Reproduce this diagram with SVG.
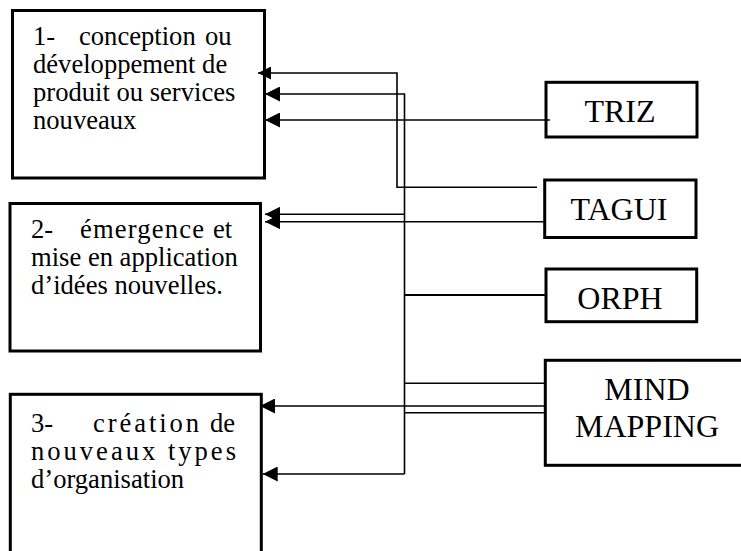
<svg xmlns="http://www.w3.org/2000/svg" width="741" height="551" viewBox="0 0 741 551">
  <style>
    .box { fill: #ffffff; stroke: #000000; stroke-width: 3; }
    .label { font-family: "Liberation Serif", "Times New Roman", serif; font-size: 26.6px; fill: #000000; }
    .tool { font-family: "Liberation Serif", "Times New Roman", serif; font-size: 32px; fill: #000000; text-anchor: middle; }
    .link { fill: none; stroke: #000000; stroke-width: 1.6; }
    .arrow { marker-end: url(#head); }
  </style>
  <defs>
    <marker id="head" viewBox="0 0 16 16" refX="16" refY="8" markerWidth="16" markerHeight="15" markerUnits="userSpaceOnUse" orient="auto">
      <path d="M0,0 L16,8 L0,16 z" fill="#000000"/>
    </marker>
    <marker id="head-small" viewBox="0 0 16 16" refX="16" refY="8" markerWidth="15" markerHeight="13" markerUnits="userSpaceOnUse" orient="auto">
      <path d="M0,0 L16,8 L0,16 z" fill="#000000"/>
    </marker>
  </defs>

  <rect width="741" height="551" fill="#ffffff"/>

  <!-- Outcome boxes on the left -->
  <g id="node-conception">
    <rect class="box" x="12.5" y="10.5" width="252" height="167.5"/>
    <text class="label"><tspan x="33" y="45">1-</tspan><tspan x="79" y="45">conception</tspan><tspan x="205" y="45">ou</tspan></text>
    <text class="label" x="33" y="73">développement de</text>
    <text class="label" x="33" y="101">produit ou services</text>
    <text class="label" x="33" y="129">nouveaux</text>
  </g>

  <g id="node-emergence">
    <rect class="box" x="10" y="203.5" width="250.5" height="147.5"/>
    <text class="label"><tspan x="31" y="238">2-</tspan><tspan x="80" y="238" textLength="124" lengthAdjust="spacing">émergence</tspan><tspan x="213" y="238">et</tspan></text>
    <text class="label" x="31" y="266">mise en application</text>
    <text class="label" x="31" y="294">d’idées nouvelles.</text>
  </g>

  <g id="node-organisation">
    <rect class="box" x="10.3" y="394.3" width="251" height="180"/>
    <text class="label"><tspan x="31" y="432">3-</tspan><tspan x="93" y="432" textLength="106" lengthAdjust="spacing">création</tspan><tspan x="210" y="432">de</tspan></text>
    <text class="label" x="31" y="460" textLength="205" lengthAdjust="spacing">nouveaux types</text>
    <text class="label" x="31" y="488">d’organisation</text>
  </g>

  <!-- Method boxes on the right -->
  <g id="node-triz">
    <rect class="box" x="546" y="82.3" width="151" height="54.7"/>
    <text class="tool" x="620" y="121.5">TRIZ</text>
  </g>

  <g id="node-tagui">
    <rect class="box" x="544.7" y="180" width="151.3" height="57.5"/>
    <text class="tool" x="619" y="220">TAGUI</text>
  </g>

  <g id="node-orph">
    <rect class="box" x="546" y="269" width="150.7" height="52.7"/>
    <text class="tool" x="620" y="309.3">ORPH</text>
  </g>

  <g id="node-mind-mapping">
    <rect class="box" x="545.3" y="360.3" width="220" height="105"/>
    <text class="tool" x="647" y="400">MIND</text>
    <text class="tool" x="647" y="437">MAPPING</text>
  </g>

  <!-- Connectors -->
  <g id="connectors">
    <!-- TAGUI upper branch to box 1 -->
    <path class="link" d="M537,187.3 H397 V73 H258" marker-end="url(#head-small)"/>
    <!-- shared trunk: box 1 down to box 3 -->
    <path class="link arrow" d="M404.5,474 V94 H265"/>
    <path class="link arrow" d="M404.5,474 H262.7"/>
    <!-- TRIZ to box 1 -->
    <path class="link arrow" d="M550,120 H265"/>
    <!-- TAGUI to box 2 (double) -->
    <path class="link arrow" d="M404.5,214.3 H265"/>
    <path class="link arrow" d="M545,221.7 H265"/>
    <!-- ORPH to trunk -->
    <path class="link" style="stroke-width:2" d="M404.5,295 H546"/>
    <!-- MIND MAPPING lines -->
    <path class="link" d="M404.5,383.3 H545"/>
    <path class="link arrow" d="M545,406 H260"/>
    <path class="link" d="M404.5,412.7 H545"/>
  </g>
</svg>
